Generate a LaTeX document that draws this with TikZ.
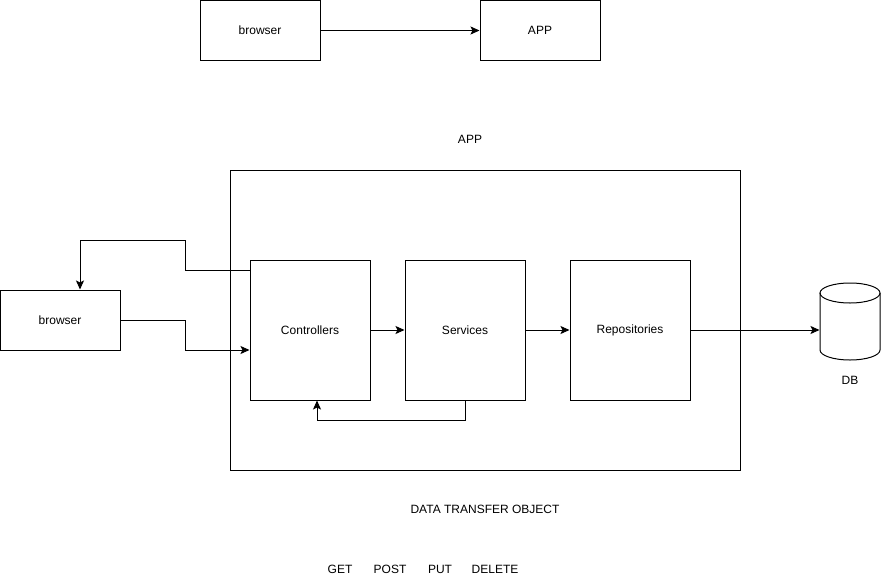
\documentclass[tikz,border=0pt]{standalone}
\usepackage{fontspec}
\setmainfont{Liberation Sans}
\usetikzlibrary{arrows.meta}
\begin{document}
\begin{tikzpicture}[x=1pt,y=-1pt,
  font=\fontsize{12}{14}\selectfont,
  line width=1pt,
  box/.style={draw, rectangle, inner sep=0pt},
  lbl/.style={inner sep=0pt},
  conn/.style={-{Stealth[length=9pt,width=8pt,inset=2pt]}}]
\useasboundingbox (0,0) rectangle (881,581);

% top overview
\node[box, minimum width=120pt, minimum height=60pt] (b0) at (260,30.5) {browser};
\node[box, minimum width=120pt, minimum height=60pt] (a0) at (540,30.5) {APP};
\draw[conn] (b0) -- (a0);

% application frame
\node[lbl] (applbl) at (470,139) {APP};
\node[box, minimum width=510pt, minimum height=300pt] (app) at (485,320) {};

% client and layers
\node[box, minimum width=120pt, minimum height=60pt] (br) at (60,320) {browser};
\node[box, minimum width=120pt, minimum height=140pt] (ctl) at (310,330) {Controllers};
\node[box, minimum width=120pt, minimum height=140pt] (svc) at (465,330) {Services};
\node[box, minimum width=120pt, minimum height=140pt] (rep) at (630,330) {Repositories};

% database cylinder
\node[minimum width=60pt, minimum height=77pt, inner sep=0pt] (db) at (850,321.5) {};
\draw (820,293) -- (820,350) arc[start angle=180, end angle=360, x radius=30pt, y radius=10pt] -- (880,293);
\draw (850,293) ellipse[x radius=30pt, y radius=10pt];
\node[lbl] (dblbl) at (850,380) {DB};

% connectors
\draw[conn] (br.east) -- (185,320) -- (185,350) -- (ctl.west |- 0,350);
\draw[conn] (ctl.west |- 0,270) -- (185,270) -- (185,240) -- (80,240) -- (br.north -| 80,0);
\draw[conn] (ctl) -- (svc);
\draw[conn] (svc) -- (rep);
\draw[conn] (rep.east) -- (rep.east -| db.west);
\draw[conn] (svc.south) -- (465,420) -- (317,420) -- (ctl.south -| 317,0);

% notes
\node[lbl] (dto) at (485,509) {DATA TRANSFER OBJECT};
\node[lbl] (get) at (340,569) {GET};
\node[lbl] (post) at (390,569) {POST};
\node[lbl] (put) at (440,569) {PUT};
\node[lbl] (del) at (495,569) {DELETE};
\end{tikzpicture}
\end{document}
